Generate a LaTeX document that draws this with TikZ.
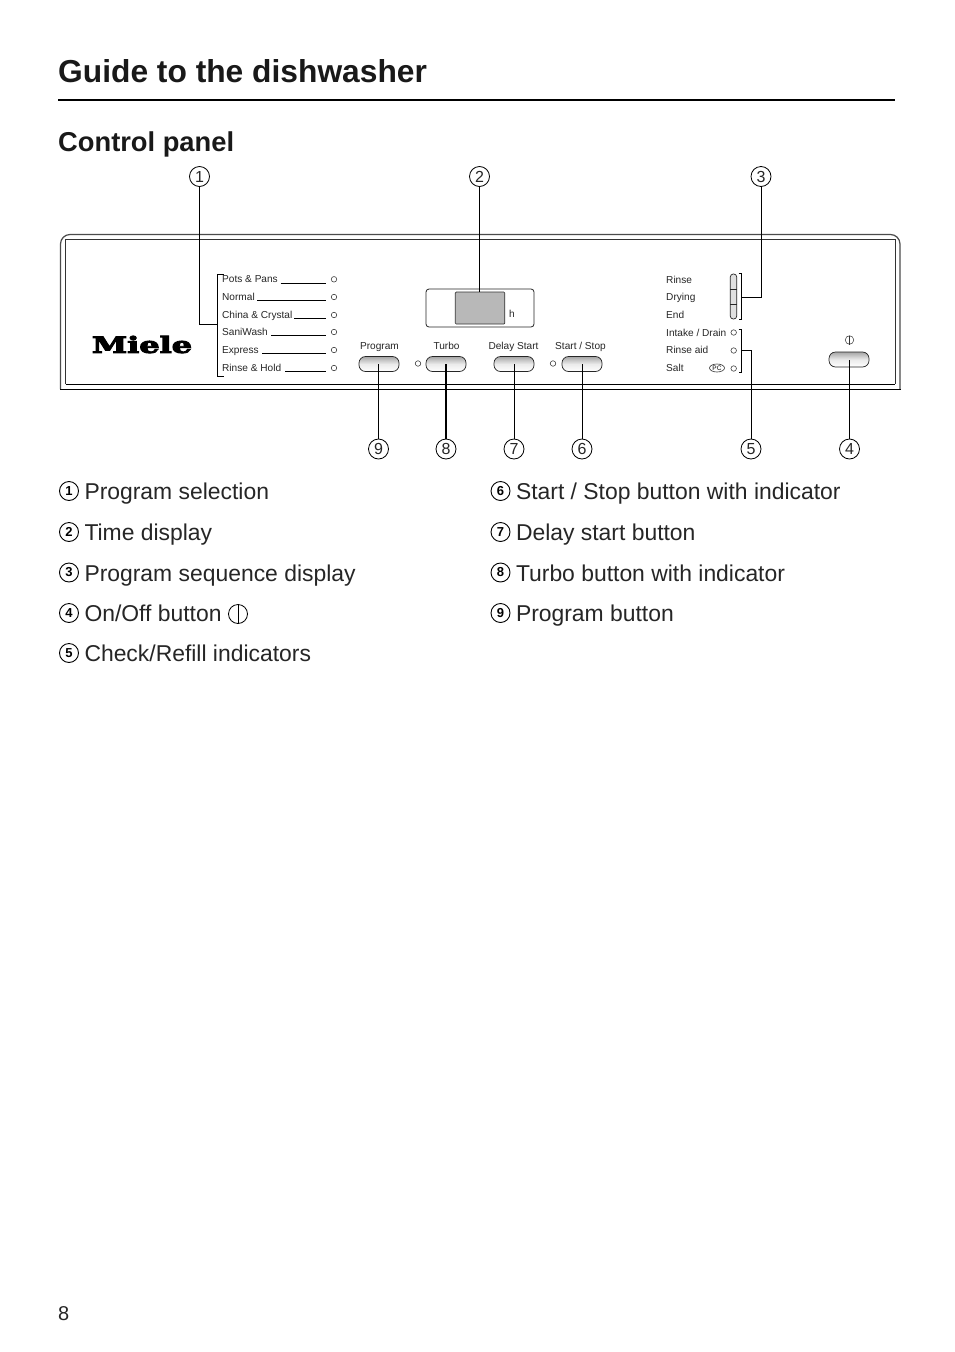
\documentclass[tikz,border=0pt]{standalone}
\usepackage{fontspec}
\usetikzlibrary{shapes.geometric}
\setmainfont{Liberation Sans}
\newfontfamily\mielefont[BoldFeatures={FakeBold=4}]{DejaVu Serif}
\newcommand{\fsz}[1]{\fontsize{#1}{#1}\selectfont}
\tikzset{
  x=1pt,y=-1pt,
  title/.style={anchor=base west,inner sep=0,font=\fsz{31.75}\bfseries,text=black!90},
  subtitle/.style={anchor=base west,inner sep=0,font=\fsz{27.3}\bfseries,text=black!90},
  legend/.style={anchor=base west,inner sep=0,font=\fsz{22.9},text=black!85},
  small/.style={anchor=base west,inner sep=0,font=\fsz{10.1},text=black!85},
  smallc/.style={anchor=base,inner sep=0,font=\fsz{10.1},text=black!85},
  callout/.style={circle,draw=black,line width=.8pt,minimum size=20pt,inner sep=0,font=\fsz{16},text=black!85,fill=white},
  legnum/.style={circle,draw=black,line width=.9pt,minimum size=19pt,inner sep=0,font=\fsz{13}\bfseries,fill=white},
  btn/.style={draw=black!85,line width=.7pt,rounded corners=6.5pt,minimum width=40pt,minimum height=15pt,inner sep=0,top color=black!35,bottom color=white,middle color=black!8},
  led/.style={circle,draw=black!75,line width=.6pt,minimum size=5.5pt,inner sep=0},
  lead/.style={draw=black,line width=.9pt},
  thin line/.style={draw=black,line width=.8pt},
}
\begin{document}
\begin{tikzpicture}
\useasboundingbox (0,0) rectangle (954,1352);
\fill[white] (0,0) rectangle (954,1352);
% headings
\node[title] (h1) at (58,82) {Guide to the dishwasher};
\coordinate (ruleL) at (58,100); \coordinate (ruleR) at (895,100);
\draw[black,line width=1.8pt] (ruleL) -- (ruleR);
\node[subtitle] (h2) at (58,151) {Control panel};
% panel
\draw[black!70,line width=1.2pt,rounded corners=9.5pt] (60.5,389) -- (60.5,234.5) -- (900,234.5) -- (900,389);
\draw[black,line width=1.2pt] (60,389.3) -- (900.5,389.3);
\draw[black!80,line width=.8pt] (65.7,384) -- (65.7,239.5) -- (895,239.5) -- (895,384);
\draw[black,line width=.9pt] (65.7,384) -- (895,384);
\node[inner sep=0,anchor=center] (miele) at (142,344.5) {\resizebox{100pt}{17pt}{\mielefont\bfseries Miele}};
% program labels
\foreach \n/\t/\y/\s in {a/Pots \& Pans/279.3/280.5,b/Normal/297/257,c/China \& Crystal/315/294,d/SaniWash/332/271,e/Express/350/262,f/Rinse \& Hold/368/285}{
  \node[small] (lab\n) at (222,\y+3.5) {\t};
  \node[led] (led\n) at (334,\y) {};
  \coordinate (ls\n) at (\s,\y+3.8);
  \coordinate (le\n) at (326,\y+3.8);
  \draw[thin line] (ls\n) -- (le\n);
}
\coordinate (br1t) at (224,274); \coordinate (br1tc) at (217,274);
\coordinate (br1b) at (224,376.7); \coordinate (br1bc) at (217,376.7);
\draw[thin line] (br1t) -- (br1tc) -- (br1bc) -- (br1b);
% display
\node[draw=black!85,line width=.8pt,rounded corners=3pt,minimum width=108pt,minimum height=38pt,inner sep=0] (disp) at (480,308) {};
\node[draw=black!80,fill=black!28,line width=.7pt,rounded corners=1pt,minimum width=49.5pt,minimum height=32pt,inner sep=0] (scr) at (480,308) {};
\node[smallc] (hh) at (512,317.5) {h};
% buttons
\node[btn] (bprog) at (379,364) {};
\node[btn] (bturbo) at (446,364) {};
\node[btn] (bdelay) at (514,364) {};
\node[btn] (bstart) at (582,364) {};
\node[btn] (bpower) at (849,359.5) {};
\node[smallc] (lprog) at (379.5,349.5) {Program};
\node[smallc] (lturbo) at (446.5,349.5) {Turbo};
\node[smallc] (ldelay) at (513.5,349.5) {Delay Start};
\node[smallc] (lstart) at (580.5,349.5) {Start / Stop};
\node[led] (ledt) at (418,363.5) {};
\node[led] (leds) at (553,363.5) {};
% right labels
\node[small] (r1) at (666,283.3) {Rinse};
\node[small] (r2) at (666,300.8) {Drying};
\node[small] (r3) at (666,318.5) {End};
\node[small] (r4) at (666,336) {Intake / Drain};
\node[small] (r5) at (666,353.8) {Rinse aid};
\node[small] (r6) at (666,371.8) {Salt};
\node[draw=black!80,line width=.6pt,ellipse,minimum width=15pt,minimum height=8pt,inner sep=0,font=\fsz{6.5}] (pc) at (717,368) {PC};
\node[led] (ledi) at (733.7,332.5) {};
\node[led] (ledr) at (733.7,350.5) {};
\node[led] (ledl) at (733.7,368.5) {};
% sequence display
\node[draw=black!85,line width=.7pt,rounded corners=3pt,minimum width=6.5pt,minimum height=45pt,inner sep=0,fill=black!12] (seq) at (733.5,296.5) {};
\coordinate (d1l) at (730.2,289); \coordinate (d1r) at (736.8,289);
\coordinate (d2l) at (730.2,304); \coordinate (d2r) at (736.8,304);
\draw[black!85,line width=.6pt] (d1l) -- (d1r) (d2l) -- (d2r);
\coordinate (b3a) at (738.5,273.5); \coordinate (b3b) at (741.7,273.5); \coordinate (b3c) at (741.7,319); \coordinate (b3d) at (738.5,319);
\draw[thin line] (b3a) -- (b3b) -- (b3c) -- (b3d);
\coordinate (b5a) at (738.5,329); \coordinate (b5b) at (741.7,329); \coordinate (b5c) at (741.7,372); \coordinate (b5d) at (738.5,372);
\draw[thin line] (b5a) -- (b5b) -- (b5c) -- (b5d);
% power symbol on panel
\node[circle,draw=black!80,line width=.5pt,minimum size=8.5pt,inner sep=0] (psym) at (849.5,340) {};
\draw[black!80,line width=.5pt] (psym.north) -- (psym.south);
% callouts
\node[callout] (c1) at (199.5,176.5) {1};
\node[callout] (c2) at (479.5,176.5) {2};
\node[callout] (c3) at (761,176.5) {3};
\node[callout] (c9) at (378.5,449) {9};
\node[callout] (c8) at (446,449) {8};
\node[callout] (c7) at (514,449) {7};
\node[callout] (c6) at (582,449) {6};
\node[callout] (c5) at (751,449) {5};
\node[callout] (c4) at (849.5,449) {4};
% leaders
\coordinate (j1) at (199.5,324);  \coordinate (e1) at (217,324);
\draw[lead] (c1) -- (j1) -- (e1);
\draw[lead] (c2) -- (c2 |- scr.north);
\coordinate (j3) at (761,297); \coordinate (e3) at (741.7,297);
\draw[lead] (c3) -- (j3) -- (e3);
\coordinate (j5) at (751,350); \coordinate (e5) at (741.7,350);
\draw[lead] (c5) -- (j5) -- (e5);
\draw[lead] (c9) -- (c9 |- bprog.center);
\draw[lead,line width=1.6pt] (c8) -- (c8 |- bturbo.center);
\draw[lead] (c7) -- (c7 |- bdelay.center);
\draw[lead] (c6) -- (c6 |- bstart.center);
\draw[lead] (c4) -- (c4 |- bpower.center);
% legend
\foreach \n/\x/\y/\t in {1/69/491/{Program selection},2/69/532/{Time display},3/69/572.5/{Program sequence display},4/69/613/{On/Off button},5/69/653/{Check/Refill indicators},6/500.5/491/{Start / Stop button with indicator},7/500.5/532/{Delay start button},8/500.5/572.5/{Turbo button with indicator},9/500.5/613/{Program button}}{
  \node[legnum] (n\n) at (\x,\y) {\n};
  \node[legend] (t\n) at (\x+15.3,\y+8.5) {\t};
}
\node[circle,draw=black,line width=.8pt,minimum size=19pt,inner sep=0] (onoff) at (238,614) {};
\draw[black,line width=.8pt] (onoff.north) -- (onoff.south);
\node[anchor=base west,inner sep=0,font=\fsz{20},text=black!85] (pg) at (58,1320) {8};
\end{tikzpicture}
\end{document}
